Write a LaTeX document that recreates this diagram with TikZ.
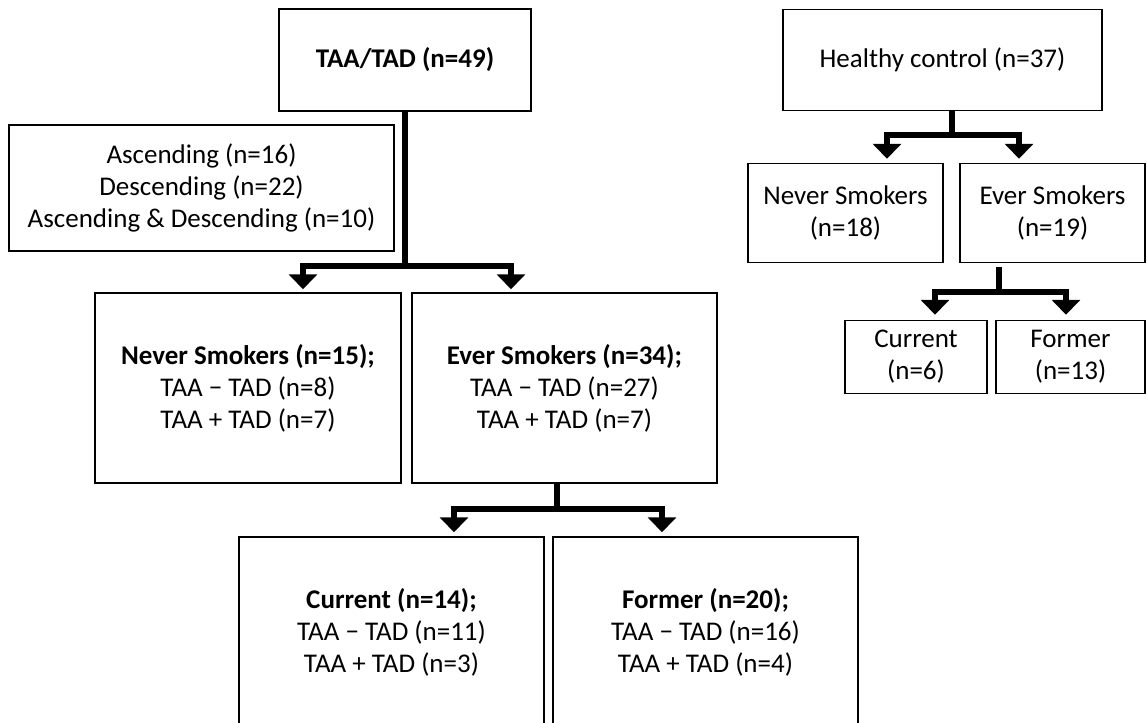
\documentclass[tikz,border=0pt]{standalone}
\usepackage{fontspec}
\setmainfont{Carlito}
\usetikzlibrary{calc, arrows.meta, positioning}
\tikzset{
    boxnode/.style = {draw, rectangle, line width=0.75pt, inner sep=0em, node distance=0em,
      font=\fontsize{13.5}{16}\selectfont, align=center},
    connect/.style = {black, line width=2.8pt, -{Triangle[width=14pt, length=7.5pt]}},
    every text node part/.style={align=center}
}

\begin{document}
\begin{tikzpicture}
    \useasboundingbox (0,0) rectangle (573.5pt,-361.5pt);
    % patients
    \node[boxnode, name=TOP, minimum width=126pt, minimum height=51pt] at (202.5pt,-30pt) {\textbf{TAA/TAD (n=49)}};
    \node[boxnode, name=ASC, below of = TOP, xshift=-101.75pt, yshift=-64pt, minimum width=192.5pt, minimum height=63pt]
      {Ascending (n=16)\\Descending (n=22)\\Ascending \& Descending (n=10)};
    \node[boxnode, name=NS, below of = TOP, xshift=-78.5pt, yshift=-164pt, minimum width=153pt, minimum height=95pt]
      {\textbf{Never Smokers (n=15);}\\TAA − TAD (n=8)\\TAA + TAD (n=7)};
    \node[boxnode, name=ES, right of = NS, xshift=158.25pt, minimum width=152.5pt, minimum height=95pt]
      {\textbf{Ever Smokers (n=34);}\\TAA − TAD (n=27)\\TAA + TAD (n=7)};
    \node[boxnode, name=CUR, below of = ES, xshift=-86.5pt, yshift=-122pt, minimum width=152.5pt, minimum height=95pt]
      {\textbf{Current (n=14);}\\TAA − TAD (n=11)\\TAA + TAD (n=3)};
    \node[boxnode, name=FOR, right of = CUR, xshift=157pt, minimum width=152.5pt, minimum height=95pt]
      {\textbf{Former (n=20);}\\TAA − TAD (n=16)\\TAA + TAD (n=4)};
    % controls
    \node[boxnode, name=HC, right of = TOP, xshift=268.75pt, minimum width=159.5pt, minimum height=50.5pt] {Healthy control (n=37)};
    \node[boxnode, name=HNS, below of = HC, xshift=-48.5pt, yshift=-76.5pt, minimum width=97.5pt, minimum height=49.5pt] {Never Smokers\\(n=18)};
    \node[boxnode, name=HES, right of = HNS, xshift=103.5pt, minimum width=92.5pt, minimum height=49.5pt] {Ever Smokers\\(n=19)};
    \node[boxnode, name=HCUR, below of = HES, xshift=-68.25pt, yshift=-72pt, minimum width=71pt, minimum height=36.5pt] {Current\\(n=6)};
    \node[boxnode, name=HFOR, right of = HCUR, xshift=77.25pt, minimum width=74.5pt, minimum height=36.5pt] {Former\\(n=13)};
    % forks
    \coordinate (J1) at ($(TOP.south)+(0,-77pt)$);
    \coordinate (A1) at ($(NS.north)+(27.5pt,1.5pt)$);
    \coordinate (A2) at ($(ES.north)+(-26.75pt,1.5pt)$);
    \coordinate (S2) at ($(ES.south)+(-3.75pt,0)$);
    \coordinate (J2) at ($(S2)+(0,-12.5pt)$);
    \coordinate (A3) at ($(CUR.north)+(31.25pt,2pt)$);
    \coordinate (A4) at ($(FOR.north)+(-21.75pt,2pt)$);
    \coordinate (S3) at ($(HC.south)+(4.75pt,0)$);
    \coordinate (J3) at ($(S3)+(0,-12pt)$);
    \coordinate (A5) at ($(HNS.north)+(20.75pt,2pt)$);
    \coordinate (A6) at ($(HES.north)+(-16.75pt,2pt)$);
    \coordinate (S4) at ($(HES.south)+(-26.75pt,-2pt)$);
    \coordinate (J4) at ($(S4)+(0,-12.5pt)$);
    \coordinate (A7) at ($(HCUR.north)+(9.5pt,2.5pt)$);
    \coordinate (A8) at ($(HFOR.north)+(-2.25pt,2.5pt)$);
    \draw[connect] (TOP.south) -- (J1) -| (A1);
    \draw[connect] (TOP.south) -- (J1) -| (A2);
    \draw[connect] (S2) -- (J2) -| (A3);
    \draw[connect] (S2) -- (J2) -| (A4);
    \draw[connect] (S3) -- (J3) -| (A5);
    \draw[connect] (S3) -- (J3) -| (A6);
    \draw[connect] (S4) -- (J4) -| (A7);
    \draw[connect] (S4) -- (J4) -| (A8);
\end{tikzpicture}
\end{document}
